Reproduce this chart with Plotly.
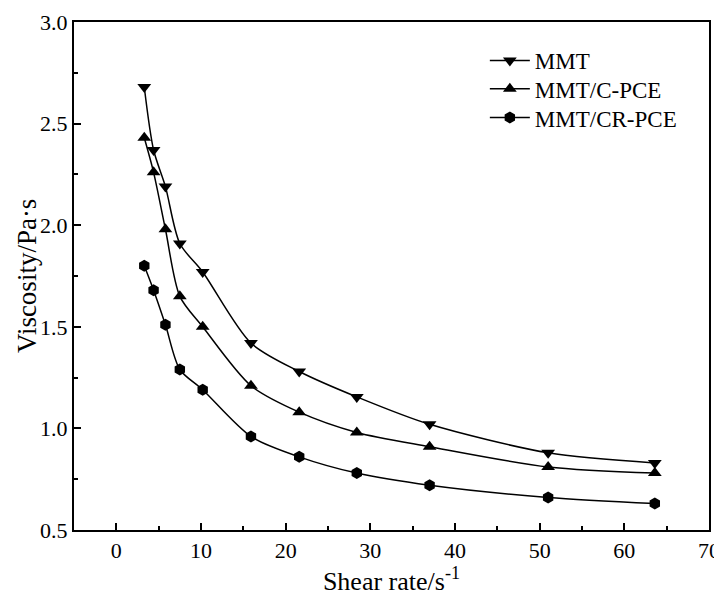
import plotly.graph_objects as go

shear_rate = [3.3, 4.4, 5.8, 7.5, 10.2, 15.9, 21.6, 28.4, 37.0, 51.0, 63.6]
mmt = [2.68, 2.37, 2.19, 1.91, 1.77, 1.42, 1.28, 1.155, 1.02, 0.88, 0.83]
mmt_cpce = [2.43, 2.26, 1.98, 1.65, 1.50, 1.21, 1.08, 0.98, 0.91, 0.81, 0.78]
mmt_crpce = [1.80, 1.68, 1.51, 1.29, 1.19, 0.96, 0.86, 0.78, 0.72, 0.66, 0.63]

series = [
    ("MMT", mmt, "triangle-down", "legend", 0.9665),
    ("MMT/C-PCE", mmt_cpce, "triangle-up", "legend2", 0.911),
    ("MMT/CR-PCE", mmt_crpce, "hexagon", "legend3", 0.854),
]

FONT = "Liberation Serif, Times New Roman, serif"

fig = go.Figure()
for name, vals, sym, lg, _ in series:
    fig.add_trace(go.Scatter(
        x=shear_rate, y=vals, name=name, mode="lines+markers", legend=lg,
        line=dict(color="black", width=1.5, shape="spline", smoothing=0.8),
        marker=dict(symbol=sym, size=12, color="black"),
    ))

axis_common = dict(
    showline=True, linecolor="black", linewidth=2, mirror=True,
    ticks="inside", ticklen=7, tickwidth=2, tickcolor="black",
    showgrid=False, zeroline=False, automargin=False,
    tickfont=dict(family=FONT, size=22, color="black"),
)

fig.update_xaxes(range=[-5, 70], dtick=10, tick0=0,
                 minor=dict(ticks="inside", ticklen=4, tickwidth=2, tickcolor="black", dtick=5, tick0=0, showgrid=False),
                 title=dict(text="Shear rate/s<sup>-1</sup>", font=dict(family=FONT, size=26, color="black"), standoff=4),
                 **axis_common)
fig.update_yaxes(range=[0.5, 3.0], dtick=0.5, tick0=0.5, tickformat=".1f",
                 minor=dict(ticks="inside", ticklen=4, tickwidth=2, tickcolor="black", dtick=0.25, tick0=0.5, showgrid=False),
                 **axis_common)

legend_style = dict(xanchor="left", yanchor="top",
                    font=dict(family=FONT, size=23, color="black"),
                    bgcolor="rgba(0,0,0,0)", itemwidth=40)
layout_legends = {}
for _, _, _, lg, ytop in series:
    layout_legends[lg] = dict(x=0.647, y=ytop, **legend_style)

fig.update_layout(
    width=714, height=592,
    margin=dict(l=66, r=13, t=14, b=70),
    plot_bgcolor="white", paper_bgcolor="white",
    showlegend=True,
    **layout_legends,
)

fig.add_annotation(
    text="Viscosity/Pa·s", xref="paper", yref="paper",
    x=(27 - 74) / 635, y=0.5, xanchor="center", yanchor="middle",
    textangle=-90, showarrow=False,
    font=dict(family=FONT, size=27, color="black"),
)

fig.write_html("out.html")
